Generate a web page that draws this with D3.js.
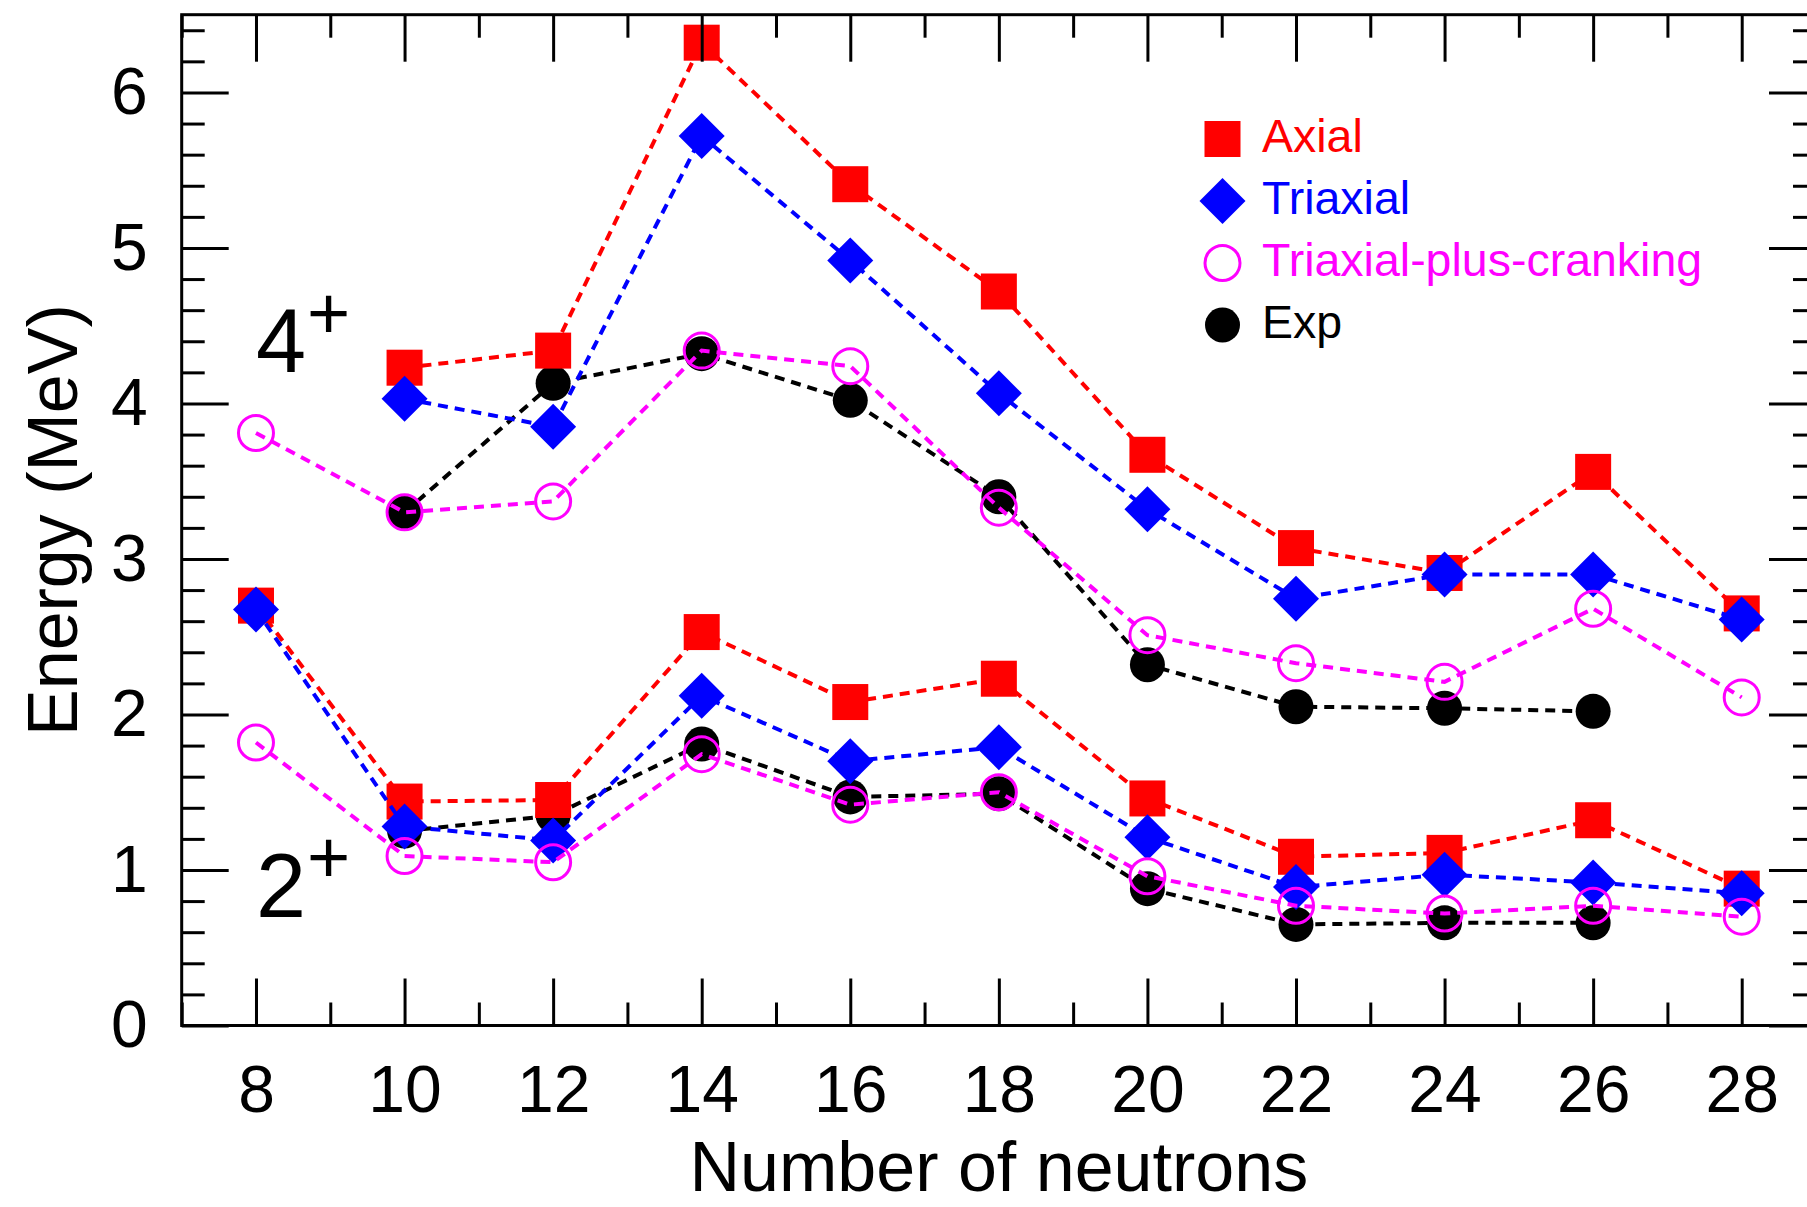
<!DOCTYPE html>
<html>
<head>
<meta charset="utf-8">
<script src="https://cdn.jsdelivr.net/npm/d3@7"></script>
<style>
  body { margin: 0; background: #fff; }
  svg { display: block; font-family: "Liberation Sans", Arial, Helvetica, sans-serif; }
</style>
</head>
<body>
<script>
// neutron numbers on the x axis
var neutrons = [8, 10, 12, 14, 16, 18, 20, 22, 24, 26, 28];

// excitation energies (MeV), null where no point is drawn
var axial4 = [null, 4.23, 4.34, 6.32, 5.41, 4.72, 3.67, 3.07, 2.91, 3.56, 2.65];
var axial2 = [2.70, 1.44, 1.45, 2.53, 2.08, 2.23, 1.46, 1.085, 1.11, 1.32, 0.88];
var triax4 = [null, 4.03, 3.85, 5.72, 4.92, 4.065, 3.32, 2.745, 2.90, 2.90, 2.61];
var triax2 = [2.675, 1.28, 1.19, 2.12, 1.70, 1.79, 1.21, 0.89, 0.97, 0.92, 0.85];
var crank4 = [3.81, 3.30, 3.37, 4.34, 4.24, 3.33, 2.51, 2.33, 2.21, 2.68, 2.11];
var crank2 = [1.82, 1.09, 1.05, 1.745, 1.42, 1.50, 0.96, 0.77, 0.72, 0.77, 0.70];
var exp4 = [null, 3.30, 4.13, 4.32, 4.02, 3.40, 2.32, 2.05, 2.04, 2.02, null];
var exp2 = [null, 1.25, 1.35, 1.81, 1.47, 1.49, 0.88, 0.65, 0.66, 0.66, null];

var yTicks = [0, 1, 2, 3, 4, 5, 6];
var legendNames = ["Axial", "Triaxial", "Triaxial-plus-cranking", "Exp"];

var W = 1807, H = 1207;
var x0 = 181.7, x1 = 1816, yTop = 14.7, yBot = 1025.5;

var xScale = d3.scaleLinear().domain([7, 29]).range([x0, x1]);
var yScale = d3.scaleLinear().domain([0, 6.5]).range([yBot, yTop]);

var svg = d3.select("body").append("svg")
    .attr("width", W)
    .attr("height", H);

// series, in drawing order (exp underneath)
var series = [
  {name: "Exp", color: "#000", shape: "dot", sets: [exp4, exp2]},
  {name: "Axial", color: "#ff0000", shape: "square", sets: [axial4, axial2]},
  {name: "Triaxial", color: "#0000ff", shape: "diamond", sets: [triax4, triax2]},
  {name: "Triaxial-plus-cranking", color: "#ff00ff", shape: "ring", sets: [crank4, crank2]}
];

function drawMarker(g, shape, color, cx, cy) {
  if (shape == "square") {
    g.append("rect").attr("x", cx - 18).attr("y", cy - 18)
      .attr("width", 36).attr("height", 36).attr("fill", color);
  } else if (shape == "diamond") {
    g.append("path")
      .attr("d", "M" + cx + "," + (cy - 23) + "L" + (cx + 23) + "," + cy +
                 "L" + cx + "," + (cy + 23) + "L" + (cx - 23) + "," + cy + "Z")
      .attr("fill", color);
  } else if (shape == "ring") {
    g.append("circle").attr("cx", cx).attr("cy", cy).attr("r", 17.5)
      .attr("fill", "none").attr("stroke", color).attr("stroke-width", 3);
  } else {
    g.append("circle").attr("cx", cx).attr("cy", cy).attr("r", 17.5)
      .attr("fill", color);
  }
}

var line = d3.line()
    .defined(function(d) { return d[1] != null; })
    .x(function(d) { return xScale(d[0]); })
    .y(function(d) { return yScale(d[1]); });

var plot = svg.append("g");
series.forEach(function(s) {
  var g = plot.append("g");
  s.sets.forEach(function(vals) {
    var pts = neutrons.map(function(n, i) { return [n, vals[i]]; });
    g.append("path")
      .attr("d", line(pts))
      .attr("fill", "none")
      .attr("stroke", s.color)
      .attr("stroke-width", 4)
      .attr("stroke-dasharray", "10,7");
  });
  s.sets.forEach(function(vals) {
    neutrons.forEach(function(n, i) {
      if (vals[i] == null) return;
      drawMarker(g, s.shape, s.color, xScale(n), yScale(vals[i]));
    });
  });
});

// axes: ticks pointing inward on all four sides
var yMinor = d3.range(0, 6.5, 0.2).filter(function(v) { return Math.abs(v - Math.round(v)) > 0.01; });
var xMajor = neutrons;
var xMinor = d3.range(7, 30, 2);

function styleAxis(g) {
  g.select(".domain").remove();
  g.selectAll(".tick line").attr("stroke", "#000").attr("stroke-width", 3);
  g.selectAll(".tick text").attr("fill", "#000")
    .style("font-size", "66px")
    .style("font-family", "Liberation Sans, Arial, sans-serif");
}

svg.append("g").attr("transform", "translate(" + x0 + ",0)")
  .call(d3.axisLeft(yScale).tickValues(yTicks).tickSize(-47).tickPadding(34).tickFormat(d3.format("d")))
  .call(styleAxis);
svg.append("g").attr("transform", "translate(" + x0 + ",0)")
  .call(d3.axisLeft(yScale).tickValues(yMinor).tickSize(-23).tickFormat(""))
  .call(styleAxis);
svg.append("g").attr("transform", "translate(" + x1 + ",0)")
  .call(d3.axisRight(yScale).tickValues(yTicks).tickSize(-47).tickFormat(""))
  .call(styleAxis);
svg.append("g").attr("transform", "translate(" + x1 + ",0)")
  .call(d3.axisRight(yScale).tickValues(yMinor).tickSize(-23).tickFormat(""))
  .call(styleAxis);

svg.append("g").attr("transform", "translate(0," + yBot + ")")
  .call(d3.axisBottom(xScale).tickValues(xMajor).tickSize(-47).tickPadding(40).tickFormat(d3.format("d")))
  .call(styleAxis);
svg.append("g").attr("transform", "translate(0," + yBot + ")")
  .call(d3.axisBottom(xScale).tickValues(xMinor).tickSize(-23).tickFormat(""))
  .call(styleAxis);
svg.append("g").attr("transform", "translate(0," + yTop + ")")
  .call(d3.axisTop(xScale).tickValues(xMajor).tickSize(-47).tickFormat(""))
  .call(styleAxis);
svg.append("g").attr("transform", "translate(0," + yTop + ")")
  .call(d3.axisTop(xScale).tickValues(xMinor).tickSize(-23).tickFormat(""))
  .call(styleAxis);

// frame
svg.append("rect")
  .attr("x", x0).attr("y", yTop)
  .attr("width", x1 - x0).attr("height", yBot - yTop)
  .attr("fill", "none").attr("stroke", "#000").attr("stroke-width", 3);

// axis titles
svg.append("text")
  .attr("x", (x0 + x1) / 2).attr("y", 1191)
  .attr("text-anchor", "middle")
  .style("font-size", "70px")
  .text("Number of neutrons");

svg.append("text")
  .attr("transform", "translate(77," + ((yTop + yBot) / 2) + ") rotate(-90)")
  .attr("text-anchor", "middle")
  .style("font-size", "70px")
  .text("Energy (MeV)");

// spin labels
[["4", 372, 339], ["2", 917, 883]].forEach(function(l) {
  svg.append("text").attr("x", 256).attr("y", l[1])
    .style("font-size", "90px").text(l[0]);
  svg.append("text").attr("x", 307).attr("y", l[2])
    .style("font-size", "74px").text("+");
});

// legend
var legend = svg.append("g");
var legendOrder = [series[1], series[2], series[3], series[0]];
legendOrder.forEach(function(s, i) {
  var cy = 139 + i * 62;
  drawMarker(legend, s.shape, s.color, 1222.5, cy);
  legend.append("text")
    .attr("x", 1262).attr("y", cy + 13)
    .attr("fill", s.color)
    .style("font-size", "46.5px")
    .text(legendNames[i]);
});
</script>
</body>
</html>
